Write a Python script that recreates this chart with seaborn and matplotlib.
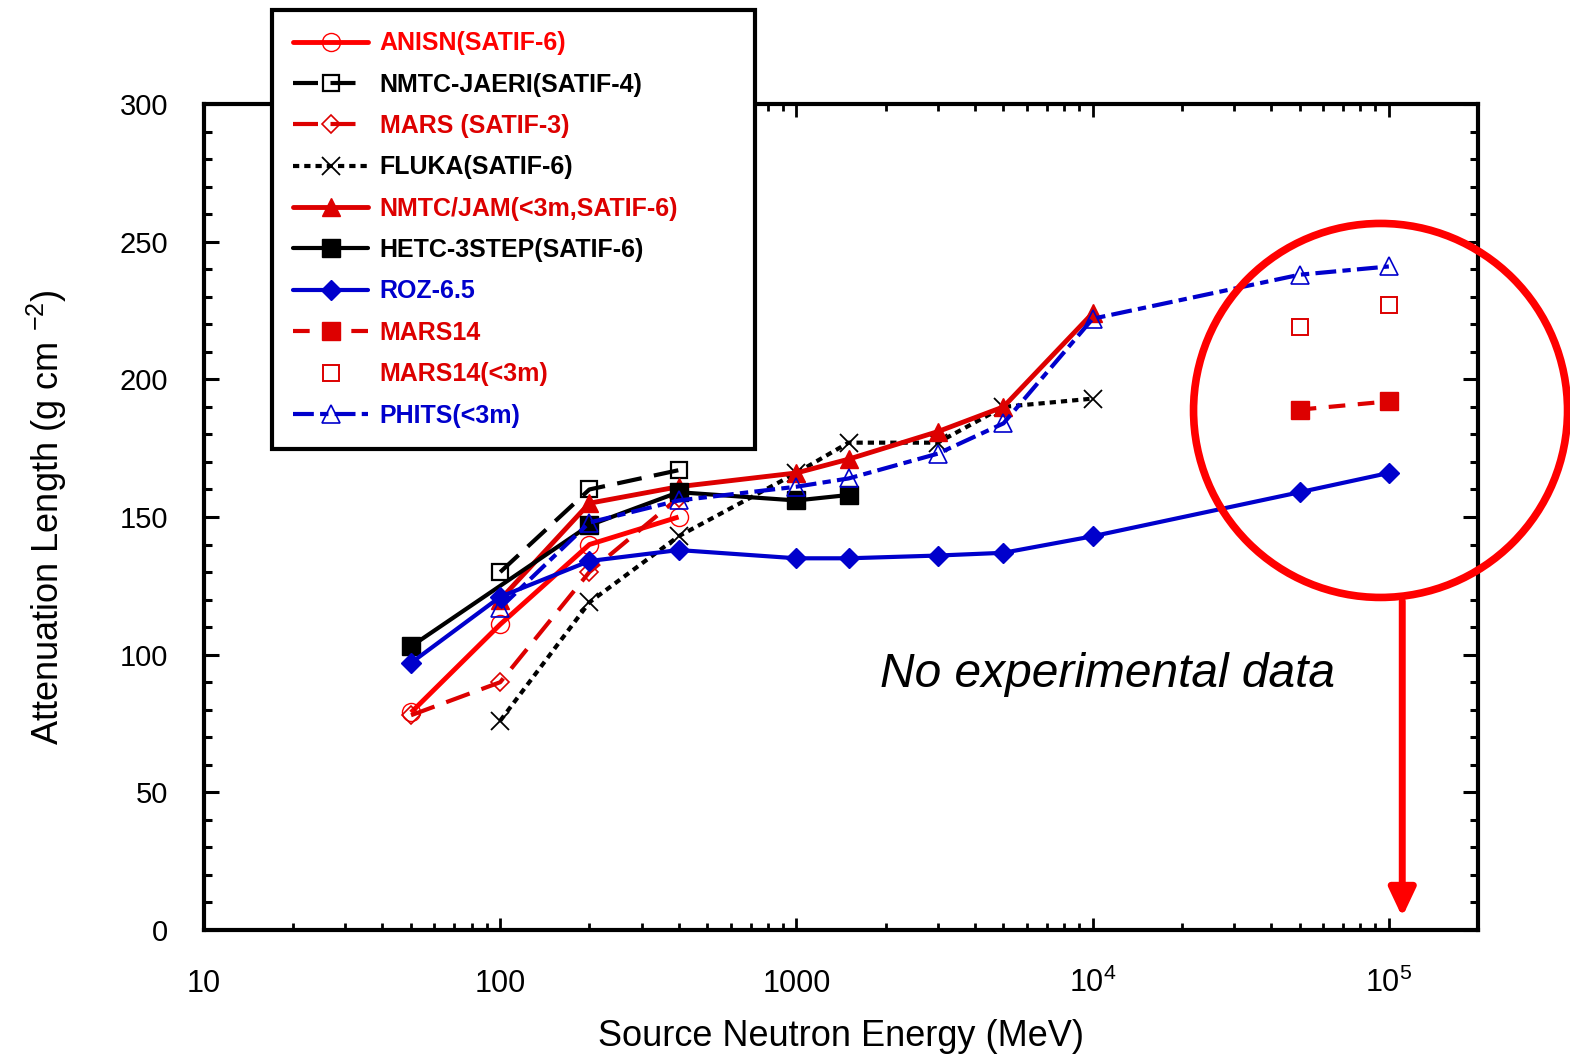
import numpy as np
import pandas as pd
import matplotlib
matplotlib.use("Agg")
import matplotlib.pyplot as plt
import seaborn as sns
from matplotlib.patches import Ellipse
from matplotlib.lines import Line2D
from matplotlib.ticker import FixedLocator, NullFormatter, MultipleLocator

# ---------------- data ----------------
anisn_x = [50, 100, 200, 400]
anisn_y = [79, 111, 140, 150]

nmtc_jaeri_x = [100, 200, 400]
nmtc_jaeri_y = [130, 160, 167]

mars3_x = [50, 100, 200, 400]
mars3_y = [78, 90, 130, 157]

fluka_x = [100, 200, 400, 1000, 1500, 3000, 5000, 10000]
fluka_y = [76, 119, 143, 166, 177, 177, 190, 193]

nmtcjam_x = [100, 200, 400, 1000, 1500, 3000, 5000, 10000]
nmtcjam_y = [120, 155, 161, 166, 171, 181, 190, 224]

hetc_x = [50, 200, 400, 1000, 1500]
hetc_y = [103, 147, 159, 156, 158]

roz_x = [50, 100, 200, 400, 1000, 1500, 3000, 5000, 10000, 50000, 100000]
roz_y = [97, 121, 134, 138, 135, 135, 136, 137, 143, 159, 166]

mars14_x = [50000, 100000]
mars14_y = [189, 192]

mars14s_x = [50000, 100000]
mars14s_y = [219, 227]

phits_x = [100, 200, 400, 1000, 1500, 3000, 5000, 10000, 50000, 100000]
phits_y = [117, 148, 156, 161, 164, 173, 184, 222, 238, 241]

labels = ["ANISN(SATIF-6)", "NMTC-JAERI(SATIF-4)", "MARS (SATIF-3)",
          "FLUKA(SATIF-6)", "NMTC/JAM(<3m,SATIF-6)", "HETC-3STEP(SATIF-6)",
          "ROZ-6.5", "MARS14", "MARS14(<3m)", "PHITS(<3m)"]
xtick_vals = [10, 100, 1000, 10000, 100000]
xtick_labels = ["10", "100", "1000", r"$\mathregular{10^{4}}$", r"$\mathregular{10^{5}}$"]
note_text = "No experimental data"

RED = "#ff0000"
DRED = "#dd0000"
BLUE = "#0000cc"
BLACK = "#000000"

sns.set_style("white")
plt.rcParams["font.family"] = ["Liberation Sans", "DejaVu Sans"]
plt.rcParams["mathtext.fontset"] = "custom"
plt.rcParams["mathtext.rm"] = "Liberation Sans"
plt.rcParams["text.color"] = "black"
plt.rcParams["axes.labelcolor"] = "black"
plt.rcParams["xtick.color"] = "black"
plt.rcParams["ytick.color"] = "black"

fig = plt.figure(figsize=(15.7, 10.59), dpi=100)
ax = fig.add_axes([204 / 1570, 1 - 930 / 1059, 1274 / 1570, 826 / 1059])

series = [
    # x, y, color, marker, mfc, ms, mew, dashes, lw
    (anisn_x, anisn_y, RED, "o", "none", 13, 1.0, None, 3.5),
    (nmtc_jaeri_x, nmtc_jaeri_y, BLACK, "s", "none", 12, 1.6, (6, 3), 3.0),
    (mars3_x, mars3_y, DRED, "D", "none", 9, 1.2, (6, 3), 3.0),
    (fluka_x, fluka_y, BLACK, "x", BLACK, 13, 1.3, (1.5, 1.2), 3.0),
    (nmtcjam_x, nmtcjam_y, DRED, "^", DRED, 13, 1.0, None, 3.5),
    (hetc_x, hetc_y, BLACK, "s", BLACK, 13, 1.0, None, 3.0),
    (roz_x, roz_y, BLUE, "D", BLUE, 10, 1.0, None, 3.0),
    (mars14_x, mars14_y, DRED, "s", DRED, 13, 1.0, (4, 3), 3.0),
    (mars14s_x, mars14s_y, DRED, "s", "none", 12, 1.4, "none", 3.0),
    (phits_x, phits_y, BLUE, "^", "none", 13, 1.2, (5, 1.5, 2, 1.5), 3.0),
]

handles = []
for (xs, ys, c, m, mfc, ms, mew, dash, lw), lab in zip(series, labels):
    df = pd.DataFrame({"x": xs, "y": ys})
    sns.lineplot(data=df, x="x", y="y", ax=ax, color=c, marker=m,
                 markersize=ms, markerfacecolor=(mfc if mfc != "none" else "white") if m != "x" else c,
                 markeredgecolor=c, markeredgewidth=mew, linewidth=lw,
                 estimator=None, sort=False, clip_on=False)
    line = ax.lines[-1]
    if mfc == "none":
        line.set_markerfacecolor("none")
    if dash == "none":
        line.set_linestyle("none")
    elif dash is not None:
        line.set_dashes(dash)
    line.set_solid_capstyle("butt")
    line.set_dash_capstyle("butt")
    h = Line2D([0], [0], color=c, marker=m, markersize=ms,
               markerfacecolor=line.get_markerfacecolor(), markeredgecolor=c,
               markeredgewidth=mew, linewidth=lw,
               linestyle=line.get_linestyle())
    if dash not in (None, "none"):
        h.set_dashes(dash)
    handles.append(h)

ax.set_xscale("log")
ax.set_xlim(10, 2e5)
ax.set_ylim(0, 300)

ax.xaxis.set_major_locator(FixedLocator(xtick_vals))
ax.set_xticklabels(xtick_labels)
ax.xaxis.set_minor_locator(FixedLocator([k * 10 ** e for e in range(1, 6) for k in range(2, 10) if k * 10 ** e < 2e5]))
ax.xaxis.set_minor_formatter(NullFormatter())
ax.yaxis.set_major_locator(MultipleLocator(50))
ax.yaxis.set_minor_locator(MultipleLocator(10))

ax.tick_params(axis="both", which="both", direction="in", top=True, right=True,
               bottom=True, left=True, colors="black")
ax.tick_params(axis="x", which="major", length=9, width=2, pad=45, labelsize=22)
ax.tick_params(axis="x", which="minor", length=5, width=2)
ax.tick_params(axis="y", which="major", length=11, width=2.2, pad=26, labelsize=21)
ax.tick_params(axis="y", which="minor", length=6, width=2.2)
for t in ax.get_xticklabels():
    t.set_verticalalignment("baseline")

for s in ax.spines.values():
    s.set_linewidth(3)
    s.set_color("black")

ax.set_xlabel("Source Neutron Energy (MeV)", fontsize=26, labelpad=14)
ax.set_ylabel(r"Attenuation Length (g cm $^{\mathregular{-2}}$)", fontsize=26, labelpad=36)
ax.grid(False)

# annotation: circle, arrow and note
circ = Ellipse((0.9235, 0.629), width=2 * 187 / 1274, height=2 * 187 / 826,
               transform=ax.transAxes, fill=False, edgecolor=RED, linewidth=5.5,
               clip_on=False, zorder=6)
ax.add_patch(circ)
ax.annotate("", xy=(1.11e5, 4.7), xytext=(1.11e5, 119.5),
            arrowprops=dict(arrowstyle="-|>,head_length=1.7,head_width=0.8",
                            color=RED, linewidth=5, shrinkA=0, shrinkB=0),
            zorder=6, annotation_clip=False)
ax.text(880 / 1570, 1 - 687 / 1059, note_text, transform=fig.transFigure,
        fontsize=34.5, fontstyle="italic", ha="left", va="baseline", color="black")

leg = fig.legend(handles, labels, loc="upper left",
                 bbox_to_anchor=(272 / 1570, 1 - 445 / 1059, 483 / 1570, 435 / 1059),
                 bbox_transform=fig.transFigure, mode="expand",
                 prop={"weight": "bold", "size": 18}, handlelength=3.0,
                 handletextpad=0.45, labelspacing=0.695, borderpad=0.85,
                 borderaxespad=0, fancybox=False, framealpha=1, edgecolor="black")
leg.get_frame().set_linewidth(3)
for txt, (xs, ys, c, *_r) in zip(leg.get_texts(), series):
    txt.set_color(c)

fig.savefig("out.png", dpi=100)
